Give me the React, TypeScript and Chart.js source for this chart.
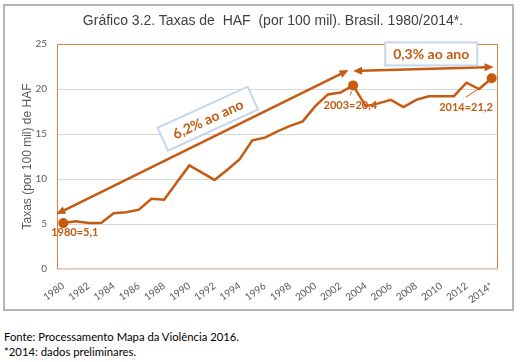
import React, { useEffect, useRef } from 'react';
import { Chart, registerables } from 'chart.js';

Chart.register(...registerables);

// ---------- data ----------
const years = [
  '1980', '1981', '1982', '1983', '1984', '1985', '1986', '1987', '1988', '1989',
  '1990', '1991', '1992', '1993', '1994', '1995', '1996', '1997', '1998', '1999',
  '2000', '2001', '2002', '2003', '2004', '2005', '2006', '2007', '2008', '2009',
  '2010', '2011', '2012', '2013', '2014*',
];
const rates = [
  5.1, 5.3, 5.1, 5.1, 6.2, 6.3, 6.6, 7.8, 7.7, 9.6,
  11.5, 10.7, 9.9, 11.0, 12.2, 14.3, 14.6, 15.3, 15.9, 16.4,
  18.1, 19.4, 19.6, 20.4, 18.1, 18.4, 18.8, 18.0, 18.8, 19.2,
  19.2, 19.2, 20.7, 20.0, 21.2,
];
const highlightIndexes = [0, 23, 34];
const yTickValues = [0, 5, 10, 15, 20, 25];

const titleText = 'Gráfico 3.2. Taxas de  HAF  (por 100 mil). Brasil. 1980/2014*.';
const yAxisTitle = 'Taxas (por 100 mil) de HAF';
const footerLines = ['Fonte: Processamento Mapa da Violência 2016.', '*2014: dados preliminares.'];

// annotation texts and anchors (in data units: x = category index, y = rate)
const pointLabelTexts = ['1980=5,1', '2003=20,4', '2014=21,2'];
const pointLabelAnchors = [
  [0.91, 4.07],
  [22.78, 18.2],
  [31.96, 17.93],
];
const growthTexts = ['6,2% ao ano', '0,3% ao ano'];
const arrowLong = [[-0.55, 6.1], [22.64, 22.1]];
const arrowFlat = [[23.0, 22.0], [34.15, 22.45]];
const growthBoxCenters = [
  [11.47, 16.7],
  [29.2, 23.9],
];

const ORANGE = '#C55A11';

function drawArrowHead(ctx: CanvasRenderingContext2D, fx: number, fy: number, tx: number, ty: number, len: number, w: number) {
  const a = Math.atan2(ty - fy, tx - fx);
  const bx = tx - len * Math.cos(a);
  const by = ty - len * Math.sin(a);
  ctx.beginPath();
  ctx.moveTo(tx, ty);
  ctx.lineTo(bx + (w / 2) * Math.sin(a), by - (w / 2) * Math.cos(a));
  ctx.lineTo(bx - (w / 2) * Math.sin(a), by + (w / 2) * Math.cos(a));
  ctx.closePath();
  ctx.fill();
}

function drawDoubleArrow(ctx: CanvasRenderingContext2D, x1: number, y1: number, x2: number, y2: number) {
  const len = 9;
  const a = Math.atan2(y2 - y1, x2 - x1);
  ctx.save();
  ctx.strokeStyle = ORANGE;
  ctx.fillStyle = ORANGE;
  ctx.lineWidth = 2.5;
  ctx.beginPath();
  ctx.moveTo(x1 + (len - 1) * Math.cos(a), y1 + (len - 1) * Math.sin(a));
  ctx.lineTo(x2 - (len - 1) * Math.cos(a), y2 - (len - 1) * Math.sin(a));
  ctx.stroke();
  drawArrowHead(ctx, x2, y2, x1, y1, len, 8);
  drawArrowHead(ctx, x1, y1, x2, y2, len, 8);
  ctx.restore();
}

function drawBoxText(ctx: CanvasRenderingContext2D, cx: number, cy: number, w: number, h: number, angle: number, text: string) {
  ctx.save();
  ctx.translate(cx, cy);
  ctx.rotate(angle);
  ctx.fillStyle = '#ffffff';
  ctx.fillRect(-w / 2, -h / 2, w, h);
  ctx.strokeStyle = '#C9D5EB';
  ctx.lineWidth = 2;
  ctx.strokeRect(-w / 2, -h / 2, w, h);
  ctx.fillStyle = ORANGE;
  ctx.font = 'bold 14px Lato';
  ctx.textAlign = 'center';
  ctx.textBaseline = 'middle';
  ctx.fillText(text, 0, 1);
  ctx.restore();
}

const framePlugin = {
  id: 'frameAndNotes',
  beforeDatasetsDraw(chart: any) {
    const { ctx, chartArea } = chart;
    const { left, right, top, bottom } = chartArea;
    ctx.save();
    ctx.lineWidth = 1;
    ctx.strokeStyle = '#F2C6A6';
    ctx.beginPath();
    ctx.moveTo(left, bottom - 0.5);
    ctx.lineTo(right, bottom - 0.5);
    ctx.stroke();
    ctx.strokeStyle = '#D9823F';
    ctx.beginPath();
    ctx.moveTo(left + 0.5, bottom);
    ctx.lineTo(left + 0.5, top + 0.5);
    ctx.lineTo(right - 0.5, top + 0.5);
    ctx.lineTo(right - 0.5, bottom);
    ctx.stroke();
    ctx.restore();
  },
  afterDatasetsDraw(chart: any) {
    const { ctx } = chart;
    const xs = chart.scales.x;
    const ys = chart.scales.y;
    const px = (v: number) => xs.getPixelForValue(v);
    const py = (v: number) => ys.getPixelForValue(v);

    // arrows
    const l1x = px(arrowLong[0][0]), l1y = py(arrowLong[0][1]);
    const l2x = px(arrowLong[1][0]), l2y = py(arrowLong[1][1]);
    drawDoubleArrow(ctx, l1x, l1y, l2x, l2y);
    drawDoubleArrow(ctx, px(arrowFlat[0][0]), py(arrowFlat[0][1]), px(arrowFlat[1][0]), py(arrowFlat[1][1]));

    // growth boxes
    const ang = Math.atan2(l2y - l1y, l2x - l1x) + 0.03;
    drawBoxText(ctx, px(growthBoxCenters[0][0]), py(growthBoxCenters[0][1]), 99, 25, ang, growthTexts[0]);
    drawBoxText(ctx, px(growthBoxCenters[1][0]), py(growthBoxCenters[1][1]), 92, 23, 0, growthTexts[1]);

    // leader lines
    ctx.save();
    ctx.strokeStyle = ORANGE;
    ctx.lineWidth = 1;
    const p03x = px(23), p03y = py(rates[23]);
    ctx.beginPath();
    ctx.moveTo(p03x - 1.5, p03y + 6);
    ctx.lineTo(p03x - 3, p03y + 10);
    ctx.stroke();
    const p14x = px(34), p14y = py(rates[34]);
    ctx.beginPath();
    ctx.moveTo(p14x - 12, p14y + 10);
    ctx.lineTo(p14x - 26, p14y + 19);
    ctx.stroke();
    ctx.restore();

    // point labels
    ctx.save();
    ctx.fillStyle = ORANGE;
    ctx.font = 'bold 11px Lato';
    ctx.textAlign = 'center';
    ctx.textBaseline = 'middle';
    pointLabelTexts.forEach((t, i) => {
      ctx.fillText(t, px(pointLabelAnchors[i][0]), py(pointLabelAnchors[i][1]));
    });
    ctx.restore();
  },
};

export default function App() {
  const canvasRef = useRef<HTMLCanvasElement | null>(null);

  useEffect(() => {
    const canvas = canvasRef.current;
    if (!canvas) return;
    const chart = new Chart(canvas, {
      type: 'line',
      data: {
        labels: years,
        datasets: [
          {
            data: rates,
            borderColor: ORANGE,
            backgroundColor: ORANGE,
            borderWidth: 2.5,
            tension: 0,
            pointRadius: (c: any) => (highlightIndexes.includes(c.dataIndex) ? 5 : 0),
            pointHoverRadius: 0,
            pointBackgroundColor: ORANGE,
            pointBorderWidth: 0,
          },
        ],
      },
      options: {
        responsive: false,
        animation: false,
        events: [],
        layout: { padding: { top: 44, right: 22, left: 0, bottom: 0 } },
        plugins: { legend: { display: false }, title: { display: false }, tooltip: { enabled: false } },
        scales: {
          x: {
            type: 'category',
            offset: true,
            grid: { display: false, drawTicks: false },
            border: { display: false },
            ticks: {
              autoSkip: false,
              maxRotation: 36,
              minRotation: 36,
              padding: 11,
              color: '#595959',
              font: { family: 'Lato', size: 10 },
              callback: (_v: any, i: number) => (i % 2 === 0 ? years[i] : ''),
            },
            afterFit: (s: any) => {
              s.height = 43;
            },
          },
          y: {
            min: 0,
            max: 25,
            afterBuildTicks: (s: any) => {
              s.ticks = yTickValues.map((v) => ({ value: v }));
            },
            grid: { color: '#D9D9D9', lineWidth: 1, drawTicks: false },
            border: { display: false },
            ticks: {
              padding: 10,
              color: '#595959',
              font: { family: 'Lato', size: 10 },
            },
            title: {
              display: true,
              text: yAxisTitle,
              color: '#595959',
              font: { family: '"Liberation Sans", Arial', size: 12 },
              padding: { top: 20, bottom: 0 },
            },
            afterFit: (s: any) => {
              s.width = 57;
            },
          },
        },
      },
      plugins: [framePlugin],
    });
    return () => chart.destroy();
  }, []);

  return (
    <div style={{ position: 'fixed', left: 0, top: 0, width: 520, height: 362, background: '#fff', overflow: 'hidden' }}>
      <div
        style={{
          position: 'absolute', left: 3, top: 4, width: 511, height: 307, boxSizing: 'border-box',
          border: '2px solid #B4B4B4',
        }}
      />
      <canvas ref={canvasRef} width={520} height={312} style={{ position: 'absolute', left: 0, top: 0 }} />
      <div
        style={{
          position: 'absolute', left: 0, top: 11, width: 546, textAlign: 'center', whiteSpace: 'pre',
          fontFamily: '"Liberation Sans", Arial, sans-serif', fontSize: 14, color: '#404040', lineHeight: '18px',
        }}
      >
        {titleText}
      </div>
      <div
        style={{
          position: 'absolute', left: 4, top: 329, fontFamily: 'Lato, sans-serif', fontSize: 11.3,
          color: '#000', lineHeight: '15px', whiteSpace: 'pre',
        }}
      >
        {footerLines.map((l) => (
          <div key={l}>{l}</div>
        ))}
      </div>
    </div>
  );
}
